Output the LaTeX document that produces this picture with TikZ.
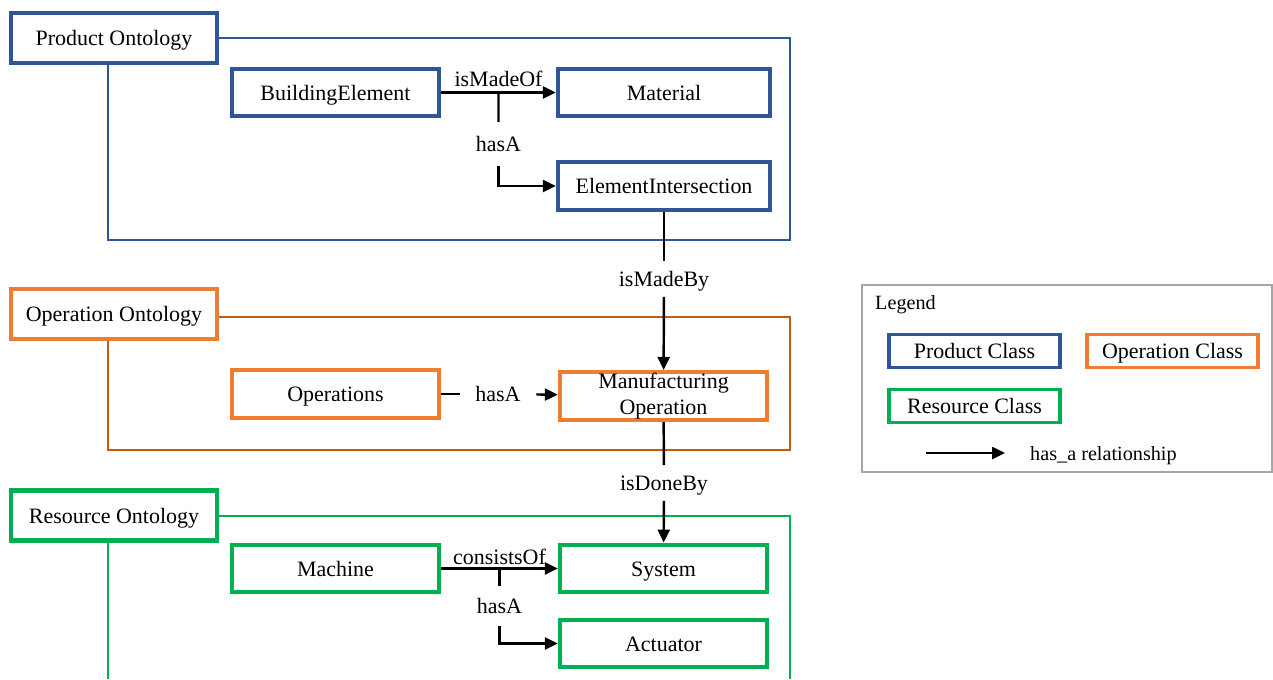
\documentclass[tikz,border=0pt]{standalone}
\usepackage{fontspec}
\setmainfont{Liberation Serif}
\usepackage{xcolor}
\usetikzlibrary{positioning,arrows.meta}
\definecolor{pblue}{HTML}{2F5597}
\definecolor{oorange}{HTML}{ED7D31}
\definecolor{oframe}{HTML}{C55A11}
\definecolor{rgreen}{HTML}{00B050}
\definecolor{lgray}{HTML}{A6A6A6}

\begin{document}
\begin{tikzpicture}[x=0.02cm,y=-0.02cm,
  every node/.style={font=\fontsize{12.5}{14.7}\selectfont},
  cls/.style={draw,line width=2.5pt,fill=white,minimum width=4.14cm,minimum height=0.95cm,
    align=center,text height=10pt,text depth=1.2pt},
  onto/.style={cls,minimum width=4.12cm,minimum height=1.0cm},
  key/.style={draw,line width=2pt,fill=white,minimum width=3.42cm,minimum height=0.66cm,
    text height=10pt,text depth=1.2pt},
  frame/.style={line width=0.8pt},
  rel/.style={line width=1.4pt},
  arr/.style={rel,-{Triangle[length=0.26cm,width=0.24cm]}},
  gap/.style={inner sep=0pt,minimum height=0.7cm,text height=9.6pt,text depth=1.6pt},
  small/.style={font=\fontsize{11.5}{13}\selectfont,text height=9.4pt,text depth=1pt}]
  \useasboundingbox (0,0) rectangle (1273,679);

  % ---------------- Product Ontology ----------------
  \draw[frame,pblue] (108,38) rectangle (790,240);
  \node[onto,draw=pblue] (po) at (114,38) {Product Ontology};
  \node[cls,draw=pblue] (be) at (335.5,92.5) {BuildingElement};
  \node[cls,draw=pblue,minimum width=4.24cm] (mat) at (664,92.5) {Material};
  \node[cls,draw=pblue,minimum width=4.24cm] (ei) at (664,186) {ElementIntersection};

  % ---------------- Operation Ontology ----------------
  \draw[frame,oframe] (108,317) rectangle (790,450);
  \node[onto,draw=oorange] (oo) at (114,314) {Operation Ontology};
  \node[cls,draw=oorange] (ops) at (335.5,394) {Operations};
  \node[cls,draw=oorange,inner ysep=0.5pt,text height=,text depth=] (mfg) at (663.5,396)
    {Manufacturing\\Operation};

  % ---------------- Resource Ontology ----------------
  \draw[frame,rgreen] (108,679) -- (108,516) -- (790,516) -- (790,679);
  \node[onto,draw=rgreen] (ro) at (114,515.5) {Resource Ontology};
  \node[cls,draw=rgreen] (mac) at (335.5,568.5) {Machine};
  \node[cls,draw=rgreen] (sys) at (663.5,568.5) {System};
  \node[cls,draw=rgreen] (act) at (663.5,643.5) {Actuator};

  % ---------------- relations ----------------
  \draw[arr] (be) -- node[above=-1pt] (lmo) {isMadeOf} coordinate[midway] (b1) (mat);
  \node[gap,minimum height=0.86cm] (lha1) at (498.5,144) {hasA};
  \draw[rel] (b1) -- (lha1);
  \draw[arr] (lha1) |- (ei);

  \node[gap] (lmb) at (664,279) {isMadeBy};
  \draw[rel] (ei) -- (lmb);
  \draw[arr] (lmb) -- (mfg);

  \node[gap,minimum width=1.52cm] (lha2) at (498,394) {hasA};
  \draw[rel] (ops) -- (lha2);
  \draw[arr] (lha2) -- (mfg);

  \node[gap] (ldb) at (664,483) {isDoneBy};
  \draw[rel] (mfg) -- (ldb);
  \draw[arr] (ldb) -- (sys);

  \draw[arr] (mac) -- node[above=-2pt] (lco) {consistsOf} coordinate[midway] (b2) (sys);
  \node[gap,minimum height=0.8cm] (lha3) at (499.5,606) {hasA};
  \draw[rel] (b2) -- (lha3);
  \draw[arr] (lha3) |- (act);

  % ---------------- Legend ----------------
  \draw[lgray,line width=1pt] (862,285) rectangle (1272,472);
  \node[small,anchor=west] (lgd) at (869,302) {Legend};
  \node[key,draw=pblue] (kp) at (974.5,351) {Product Class};
  \node[key,draw=oorange] (ko) at (1172.5,351) {Operation Class};
  \node[key,draw=rgreen] (kr) at (974.5,406) {Resource Class};
  \coordinate (ka) at (926,453);
  \coordinate (kb) at (1005,453);
  \draw[arr] (ka) -- (kb);
  \node[small,right=0.38cm of kb] (krel) {has\_a relationship};
\end{tikzpicture}
\end{document}
